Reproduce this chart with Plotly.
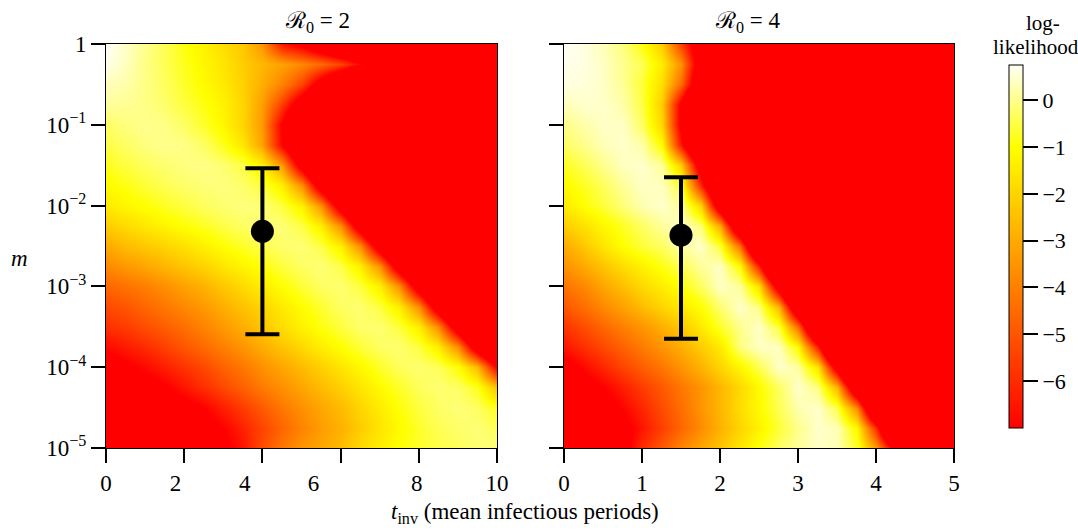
import plotly.graph_objects as go

# ---------------- data ----------------
# log10(m) rows shared by both panels (top to bottom)
log10_m = [0.0, -0.25, -0.5, -0.75, -1.0, -1.25, -1.5, -1.75, -2.0, -2.25, -2.5,
           -2.75, -3.0, -3.25, -3.5, -3.75, -4.0, -4.25, -4.5, -4.75, -5.0]

# Panel R0 = 2 : t_inv columns 0..10 step 0.5 (log-likelihood;
# everything at or below -7 is drawn as saturated red)
t_r2 = [0, 0.5, 1, 1.5, 2, 2.5, 3, 3.5, 4, 4.5, 5, 5.5, 6, 6.5, 7, 7.5, 8, 8.5, 9, 9.5, 10]
ll_r2 = [
    [0.8, 0.4, 0.0, -0.4, -0.9, -1.3, -1.8, -2.3, -3.5, -6.5, -7.5, -9.0, -10.5, -12.0, -13.5, -15.0, -16.5, -18.0, -19.5, -20, -20],
    [0.65, 0.35, -0.05, -0.4, -0.8, -1.2, -1.6, -2.2, -2.7, -3.2, -3.8, -4.5, -5.4, -6.8, -9.5, -12.0, -14.5, -17.0, -19.5, -20, -20],
    [0.35, 0.2, -0.05, -0.35, -0.7, -1.1, -1.5, -2.1, -2.9, -3.9, -5.4, -8.0, -10.6, -13.2, -15.8, -18.4, -20, -20, -20, -20, -20],
    [0.1, 0.05, -0.05, -0.25, -0.55, -0.9, -1.3, -2.0, -3.3, -5.6, -8.5, -11.5, -14.5, -17.5, -20, -20, -20, -20, -20, -20, -20],
    [-0.3, -0.1, 0.0, -0.05, -0.3, -0.7, -1.2, -2.0, -3.4, -7.2, -11.0, -14.8, -18.6, -20, -20, -20, -20, -20, -20, -20, -20],
    [-0.5, -0.3, -0.1, 0.0, -0.05, -0.3, -0.8, -1.6, -3.2, -7.0, -10.8, -14.6, -18.4, -20, -20, -20, -20, -20, -20, -20, -20],
    [-0.8, -0.55, -0.35, -0.2, -0.1, -0.05, -0.2, -0.5, -1.3, -3.4, -8.2, -12.2, -16.2, -20, -20, -20, -20, -20, -20, -20, -20],
    [-1.1, -0.85, -0.6, -0.4, -0.25, -0.15, -0.1, -0.27, -0.57, -1.4, -3.7, -8.6, -12.6, -16.6, -20, -20, -20, -20, -20, -20, -20],
    [-1.5, -1.2, -1.0, -0.75, -0.55, -0.35, -0.2, -0.12, -0.15, -0.55, -1.33, -3.55, -8.44, -12.44, -16.4, -20, -20, -20, -20, -20, -20],
    [-2.2, -1.85, -1.55, -1.25, -1.0, -0.75, -0.5, -0.3, -0.15, -0.15, -0.5, -1.38, -3.68, -8.6, -12.6, -16.6, -20, -20, -20, -20, -20],
    [-3.0, -2.6, -2.3, -2.0, -1.7, -1.35, -1.0, -0.7, -0.45, -0.25, -0.15, -0.5, -1.38, -3.68, -8.6, -12.6, -16.6, -20, -20, -20, -20],
    [-3.8, -3.4, -3.1, -2.7, -2.35, -2.0, -1.6, -1.25, -0.9, -0.55, -0.3, -0.15, -0.5, -1.38, -3.68, -8.6, -12.6, -16.6, -20, -20, -20],
    [-4.6, -4.3, -4.0, -3.6, -3.2, -2.8, -2.3, -1.85, -1.4, -1.0, -0.6, -0.3, -0.2, -0.55, -1.38, -3.68, -8.6, -12.6, -16.6, -20, -20],
    [-5.3, -5.0, -4.6, -4.2, -3.8, -3.4, -2.9, -2.45, -2.0, -1.5, -1.05, -0.65, -0.3, -0.2, -0.55, -1.38, -3.68, -8.6, -12.6, -16.6, -20],
    [-5.9, -5.6, -5.2, -4.8, -4.4, -3.9, -3.4, -2.9, -2.35, -1.8, -1.3, -0.9, -0.55, -0.25, -0.2, -0.55, -1.38, -3.68, -8.6, -12.6, -16.6],
    [-6.8, -6.4, -6.0, -5.5, -5.0, -4.5, -4.0, -3.5, -2.95, -2.4, -1.9, -1.4, -1.0, -0.6, -0.3, -0.2, -0.55, -1.38, -3.68, -8.6, -12.6],
    [-7.6, -7.2, -6.8, -6.3, -5.8, -5.3, -4.7, -4.2, -3.6, -3.1, -2.6, -2.1, -1.6, -1.15, -0.7, -0.35, -0.2, -0.35, -0.97, -2.6, -7.2],
    [-8.3, -8.0, -7.6, -7.1, -6.5, -5.9, -5.3, -4.7, -4.1, -3.6, -3.1, -2.6, -2.1, -1.6, -1.1, -0.7, -0.35, -0.2, -0.3, -0.8, -2.5],
    [-9.0, -8.8, -8.5, -8.0, -7.5, -7.0, -6.3, -5.6, -4.9, -4.2, -3.6, -3.1, -2.6, -2.0, -1.45, -0.95, -0.55, -0.3, -0.15, -0.3, -0.8],
    [-9.5, -9.3, -9.0, -8.6, -8.1, -7.6, -7.0, -6.2, -5.4, -4.6, -3.9, -3.3, -2.8, -2.2, -1.6, -1.1, -0.7, -0.4, -0.25, -0.15, -0.4],
    [-10, -9.8, -9.5, -9.0, -8.5, -8.0, -7.4, -6.5, -5.2, -4.2, -3.5, -3.1, -2.6, -1.9, -1.4, -1.0, -0.7, -0.5, -0.35, -0.2, -0.1],
]

# Panel R0 = 4 : t_inv columns 0..5 step 0.25 (log-likelihood)
t_r4 = [0, 0.25, 0.5, 0.75, 1, 1.25, 1.5, 1.75, 2, 2.25, 2.5, 2.75, 3, 3.25, 3.5, 3.75, 4, 4.25, 4.5, 4.75, 5]
ll_r4 = [
    [0.75, 0.6, 0.3, -0.1, -0.9, -2.2, -5.5, -8.8, -12.1, -15.4, -18.7, -20, -20, -20, -20, -20, -20, -20, -20, -20, -20],
    [0.7, 0.6, 0.4, 0.0, -0.4, -1.5, -3.6, -8.5, -13.4, -18.3, -20, -20, -20, -20, -20, -20, -20, -20, -20, -20, -20],
    [0.6, 0.55, 0.4, 0.05, -0.6, -1.8, -4.5, -9.5, -14.5, -19.5, -20, -20, -20, -20, -20, -20, -20, -20, -20, -20, -20],
    [0.3, 0.45, 0.45, 0.2, -0.5, -2.2, -7.5, -12.8, -18.1, -20, -20, -20, -20, -20, -20, -20, -20, -20, -20, -20, -20],
    [-0.05, 0.2, 0.4, 0.4, -0.3, -2.0, -7.5, -13.0, -18.5, -20, -20, -20, -20, -20, -20, -20, -20, -20, -20, -20, -20],
    [-0.3, 0.0, 0.3, 0.45, 0.2, -1.1, -6.5, -11.9, -17.3, -20, -20, -20, -20, -20, -20, -20, -20, -20, -20, -20, -20],
    [-0.75, -0.4, 0.0, 0.35, 0.45, 0.1, -2.2, -8.5, -14.8, -20, -20, -20, -20, -20, -20, -20, -20, -20, -20, -20, -20],
    [-1.1, -0.75, -0.35, 0.1, 0.4, 0.35, -0.6, -6.2, -11.8, -17.4, -20, -20, -20, -20, -20, -20, -20, -20, -20, -20, -20],
    [-1.5, -1.0, -0.6, -0.15, 0.25, 0.45, 0.1, -2.0, -8.9, -16.2, -20, -20, -20, -20, -20, -20, -20, -20, -20, -20, -20],
    [-2.2, -1.7, -1.2, -0.75, -0.3, 0.1, 0.45, -0.17, -3.0, -10.5, -17.2, -20, -20, -20, -20, -20, -20, -20, -20, -20, -20],
    [-3.0, -2.3, -1.6, -1.0, -0.6, -0.3, 0.2, 0.42, -0.59, -4.44, -12.44, -18.4, -20, -20, -20, -20, -20, -20, -20, -20, -20],
    [-3.6, -3.0, -2.4, -1.8, -1.3, -0.85, -0.4, 0.1, 0.4, -1.1, -6.36, -14.36, -19.6, -20, -20, -20, -20, -20, -20, -20, -20],
    [-4.3, -3.8, -3.1, -2.5, -1.9, -1.4, -0.95, -0.3, 0.4, 0.1, -1.8, -8.6, -16.0, -20, -20, -20, -20, -20, -20, -20, -20],
    [-5.0, -4.4, -3.8, -3.2, -2.6, -2.0, -1.5, -1.0, -0.2, 0.45, -0.1, -2.8, -10.2, -17.0, -20, -20, -20, -20, -20, -20, -20],
    [-5.8, -5.2, -4.6, -4.0, -3.5, -2.9, -2.3, -1.5, -0.7, 0.0, 0.42, -0.59, -4.44, -12.44, -18.4, -20, -20, -20, -20, -20, -20],
    [-6.5, -5.9, -5.3, -4.7, -4.1, -3.5, -2.9, -2.2, -1.5, -0.1, 0.4, 0.35, -1.1, -6.36, -14.36, -19.6, -20, -20, -20, -20, -20],
    [-7.6, -6.8, -6.1, -5.4, -4.8, -4.2, -3.5, -2.8, -2.0, -1.2, -0.4, 0.45, 0.14, -1.7, -8.3, -15.8, -20, -20, -20, -20, -20],
    [-8.3, -7.6, -7.0, -6.3, -5.6, -4.9, -4.2, -3.5, -2.7, -1.9, -1.1, -0.3, 0.45, -0.1, -2.8, -10.2, -17.0, -20, -20, -20, -20],
    [-8.8, -8.3, -7.6, -6.9, -6.1, -5.2, -4.4, -3.5, -2.7, -1.8, -1.1, -0.4, 0.25, 0.45, -0.45, -3.8, -11.8, -18.0, -20, -20, -20],
    [-9.4, -8.9, -8.3, -7.5, -6.5, -5.5, -4.6, -3.7, -2.8, -2.0, -1.3, -0.6, 0.0, 0.45, 0.3, -1.2, -6.0, -13.5, -19.0, -20, -20],
    [-10, -9.5, -8.8, -7.6, -6.0, -4.9, -3.9, -3.1, -2.4, -1.6, -0.9, -0.3, 0.1, 0.4, 0.3, -0.7, -3.4, -8.0, -15.0, -20, -20],
]

# Maximum-likelihood estimates with intervals
est_t = [4.0, 1.5]
est_m = [4.8e-3, 4.3e-3]
est_m_hi = [2.9e-2, 2.25e-2]
est_m_lo = [2.55e-4, 2.25e-4]

panel_titles = ["\u211b<sub>0</sub> = 2", "\u211b<sub>0</sub> = 4"]
y_tickvals = [1, 1e-1, 1e-2, 1e-3, 1e-4, 1e-5]
y_ticktext = ["1", "10<sup>\u22121</sup>", "10<sup>\u22122</sup>", "10<sup>\u22123</sup>",
              "10<sup>\u22124</sup>", "10<sup>\u22125</sup>"]
x1_ticks = [0, 2, 4, 6, 8, 10]
x1_label_pos = [0, 1.78, 3.55, 5.31, 7.95, 10]
x1_labels = ["0", "2", "4", "6", "8", "10"]
x2_ticks = [0, 1, 2, 3, 4, 5]
cb_ticks = [-6, -5, -4, -3, -2, -1, 0]
cb_text = ["\u22126", "\u22125", "\u22124", "\u22123", "\u22122", "\u22121", "0"]

# ---------------- figure ----------------
W, H = 1078, 531
FONT = "Liberation Serif, Times New Roman, DejaVu Serif, serif"
FS = 23

m_rows = [10 ** v for v in log10_m]

fig = go.Figure()
fig.add_trace(go.Heatmap(x=t_r2, y=m_rows, z=ll_r2, coloraxis="coloraxis",
                         zsmooth="best", xaxis="x", yaxis="y", hoverinfo="skip"))
fig.add_trace(go.Heatmap(x=t_r4, y=m_rows, z=ll_r4, coloraxis="coloraxis",
                         zsmooth="best", xaxis="x2", yaxis="y2", hoverinfo="skip"))

for i, (xa, ya) in enumerate([("x", "y"), ("x2", "y2")]):
    fig.add_trace(go.Scatter(
        x=[est_t[i]], y=[est_m[i]], mode="markers", xaxis=xa, yaxis=ya,
        marker=dict(color="black", size=23),
        error_y=dict(type="data", symmetric=False,
                     array=[est_m_hi[i] - est_m[i]],
                     arrayminus=[est_m[i] - est_m_lo[i]],
                     color="black", thickness=4, width=17),
        showlegend=False, hoverinfo="skip"))

# empty trace hosting the overlay axis that carries the (shifted) tick labels
fig.add_trace(go.Scatter(x=[], y=[], xaxis="x3", yaxis="y", showlegend=False))


def px_x(p):
    return p / W


def px_y(p):
    return 1 - p / H


x1_dom = [px_x(106), px_x(497)]
x2_dom = [px_x(564), px_x(954)]
y_dom = [px_y(448), px_y(44)]

axis_common = dict(showline=True, linecolor="black", linewidth=1, mirror=True,
                   ticks="outside", ticklen=14, tickwidth=1.5, tickcolor="black",
                   showgrid=False, zeroline=False,
                   tickfont=dict(family=FONT, size=FS, color="black"))

fig.update_layout(
    width=W, height=H,
    margin=dict(l=0, r=0, t=0, b=0, autoexpand=False),
    paper_bgcolor="white", plot_bgcolor="white",
    showlegend=False,
    xaxis=dict(domain=x1_dom, range=[0, 10], anchor="y", tickvals=x1_ticks,
               showticklabels=False, **axis_common),
    xaxis3=dict(overlaying="x", anchor="y", range=[0, 10], tickvals=x1_label_pos,
                ticktext=x1_labels, ticks="outside", ticklen=14,
                tickcolor="rgba(0,0,0,0)", showline=False, showgrid=False,
                zeroline=False, tickfont=dict(family=FONT, size=FS, color="black")),
    xaxis2=dict(domain=x2_dom, range=[0, 5], anchor="y2", tickvals=x2_ticks,
                ticktext=[str(v) for v in x2_ticks], **axis_common),
    yaxis=dict(domain=y_dom, type="log", range=[-5, 0], anchor="x",
               tickvals=y_tickvals, ticktext=y_ticktext, **axis_common),
    yaxis2=dict(domain=y_dom, type="log", range=[-5, 0], anchor="x2",
                tickvals=y_tickvals, showticklabels=False, **axis_common),
    coloraxis=dict(
        cmin=-7, cmax=0.75,
        colorscale=[[0.0, "#ff0000"], [0.774, "#ffff00"], [1.0, "#fffff6"]],
        colorbar=dict(
            x=px_x(1009), xanchor="left", xpad=0, ypad=0,
            y=px_y(246.5), yanchor="middle", lenmode="pixels", len=363,
            thicknessmode="pixels", thickness=14,
            outlinewidth=1, outlinecolor="black",
            tickvals=cb_ticks, ticktext=cb_text, ticks="outside", ticklen=15,
            tickwidth=1.5, tickcolor="black",
            tickfont=dict(family=FONT, size=22, color="black"),
        ),
    ),
)

ann_font = dict(family=FONT, size=FS, color="black")
cb_font = dict(family=FONT, size=21, color="black")
fig.add_annotation(x=px_x(317), y=px_y(22), xref="paper", yref="paper",
                   text=panel_titles[0], showarrow=False, font=ann_font,
                   xanchor="center", yanchor="middle")
fig.add_annotation(x=px_x(748), y=px_y(22), xref="paper", yref="paper",
                   text=panel_titles[1], showarrow=False, font=ann_font,
                   xanchor="center", yanchor="middle")
fig.add_annotation(x=px_x(1043), y=px_y(23), xref="paper", yref="paper",
                   text="log-", showarrow=False, font=cb_font,
                   xanchor="center", yanchor="middle")
fig.add_annotation(x=px_x(1036), y=px_y(47), xref="paper", yref="paper",
                   text="likelihood", showarrow=False, font=cb_font,
                   xanchor="center", yanchor="middle")
fig.add_annotation(x=px_x(19), y=px_y(258), xref="paper", yref="paper",
                   text="<i>m</i>", showarrow=False, font=ann_font,
                   xanchor="center", yanchor="middle")
fig.add_annotation(x=px_x(525), y=px_y(513), xref="paper", yref="paper",
                   text="<i>t</i><sub>inv</sub> (mean infectious periods)",
                   showarrow=False, font=ann_font, xanchor="center", yanchor="middle")

fig.write_html("out.html")
